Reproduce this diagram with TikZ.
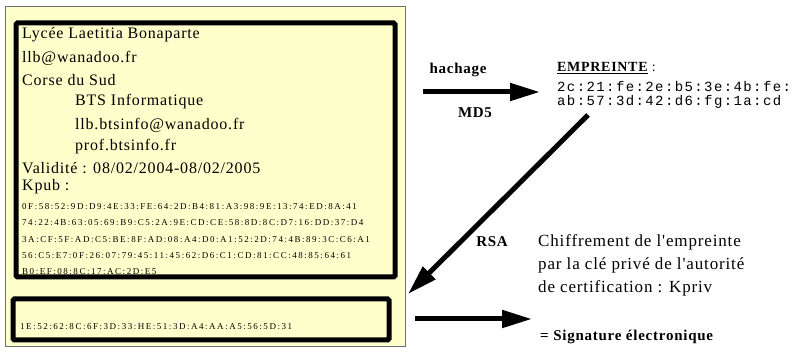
\documentclass[tikz,border=0pt]{standalone}
\usepackage{fontspec}
\setmainfont{Liberation Serif}
\newfontfamily\cardfont[LetterSpace=5]{Liberation Serif}
\newfontfamily\hexfont[LetterSpace=17]{Liberation Serif}
\newfontfamily\printfont[LetterSpace=10]{Liberation Mono}
\newfontfamily\notefont[LetterSpace=5]{Liberation Serif}
\newfontfamily\labelfont[LetterSpace=5]{Liberation Serif}
\usetikzlibrary{arrows.meta}
\definecolor{cardyellow}{HTML}{FFFFCC}
\definecolor{cardedge}{HTML}{707070}

\tikzset{
  card/.style={draw=cardedge, line width=1pt, fill=cardyellow, inner sep=0pt},
  heavybox/.style={draw=black, line width=5pt, rounded corners=1.5pt, inner sep=0pt},
  cardline/.style={anchor=west, inner sep=0pt, font=\cardfont\fontsize{16}{18}\selectfont},
  hexline/.style={anchor=west, inner sep=0pt, font=\hexfont\fontsize{9}{10}\selectfont},
  printline/.style={anchor=west, inner sep=0pt, font=\printfont\fontsize{14}{16}\selectfont},
  steplabel/.style={inner sep=0pt, font=\labelfont\bfseries\fontsize{15}{17}\selectfont},
  bigarrow/.style={line width=5pt, -{Triangle[length=30pt,width=17pt]}},
}

\begin{document}
\begin{tikzpicture}[x=1pt,y=-1pt]
\useasboundingbox (0,0) rectangle (793,352);

% certificate card and its two framed zones
\node[card, minimum width=400pt, minimum height=340pt] (cardbox) at (205,177) {};
\node[heavybox, minimum width=379pt, minimum height=254pt] (infobox) at (205.5,150) {};
\node[heavybox, minimum width=376pt, minimum height=41pt] (sigbox) at (201,319.5) {};

% certificate contents
\node[cardline] (school) at (22,35) {Lycée Laetitia Bonaparte};
\node[cardline] (mail)   at (22,58) {llb@wanadoo.fr};
\node[cardline] (region) at (22,80) {Corse du Sud};
\node[cardline] (bts)    at (75,102) {BTS Informatique};
\node[cardline] (btsmail) at (75,125) {llb.btsinfo@wanadoo.fr};
\node[cardline] (site)   at (75,147) {prof.btsinfo.fr};
\node[cardline] (valid)  at (22,168) {Validité : 08/02/2004-08/02/2005};
\node[cardline] (kpub) at (22,187) {Kpub :};
\node[hexline] (hexa) at (22,207) {0F:58:52:9D:D9:4E:33:FE:64:2D:B4:81:A3:98:9E:13:74:ED:8A:41};
\node[hexline] (hexb) at (22,223) {74:22:4B:63:05:69:B9:C5:2A:9E:CD:CE:58:8D:8C:D7:16:DD:37:D4};
\node[hexline] (hexc) at (22,240) {3A:CF:5F:AD:C5:BE:8F:AD:08:A4:D0:A1:52:2D:74:4B:89:3C:C6:A1};
\node[hexline] (hexd) at (22,256) {56:C5:E7:0F:26:07:79:45:11:45:62:D6:C1:CD:81:CC:48:85:64:61};
\node[hexline] (hexe) at (22,272) {B0:EF:08:8C:17:AC:2D:E5};
\node[hexline] (sighex) at (20,327) {1E:52:62:8C:6F:3D:33:HE:51:3D:A4:AA:A5:56:5D:31};

% hashing step
\node[steplabel] (hach) at (458,70) {hachage};
\node[steplabel] (md5)  at (475,113) {MD5};
\coordinate (hashfrom) at (423,92);
\coordinate (hashto)   at (540,92);
\draw[bigarrow] (hashfrom) -- (hashto);

% fingerprint
\node[anchor=west, inner sep=0pt, font=\labelfont\fontsize{14}{16}\selectfont] (printtitle) at (557,68) {\underline{\bfseries EMPREINTE} :};
\node[printline] (printa) at (557,87) {2c:21:fe:2e:b5:3e:4b:fe:};
\node[printline] (printb) at (557,102) {ab:57:3d:42:d6:fg:1a:cd};

% encryption step back to the signature zone
\coordinate (rsafrom) at (588,115);
\coordinate (rsato)   at (408,294);
\draw[bigarrow] (rsafrom) -- (rsato);
\node[steplabel] (rsa) at (492,242) {RSA};
\node[anchor=west, inner sep=0pt, align=left, font=\notefont\fontsize{17}{23}\selectfont] (cipher) at (538,265)
  {Chiffrement de l'empreinte\\par la clé privé de l'autorité\\de certification : Kpriv};

% result
\coordinate (sigfrom) at (415,319);
\coordinate (sigto)   at (532,319);
\draw[bigarrow] (sigfrom) -- (sigto);
\node[anchor=west, inner sep=0pt, font=\labelfont\bfseries\fontsize{15}{17}\selectfont] (sigtext) at (540,337) {= Signature électronique};
\end{tikzpicture}
\end{document}
